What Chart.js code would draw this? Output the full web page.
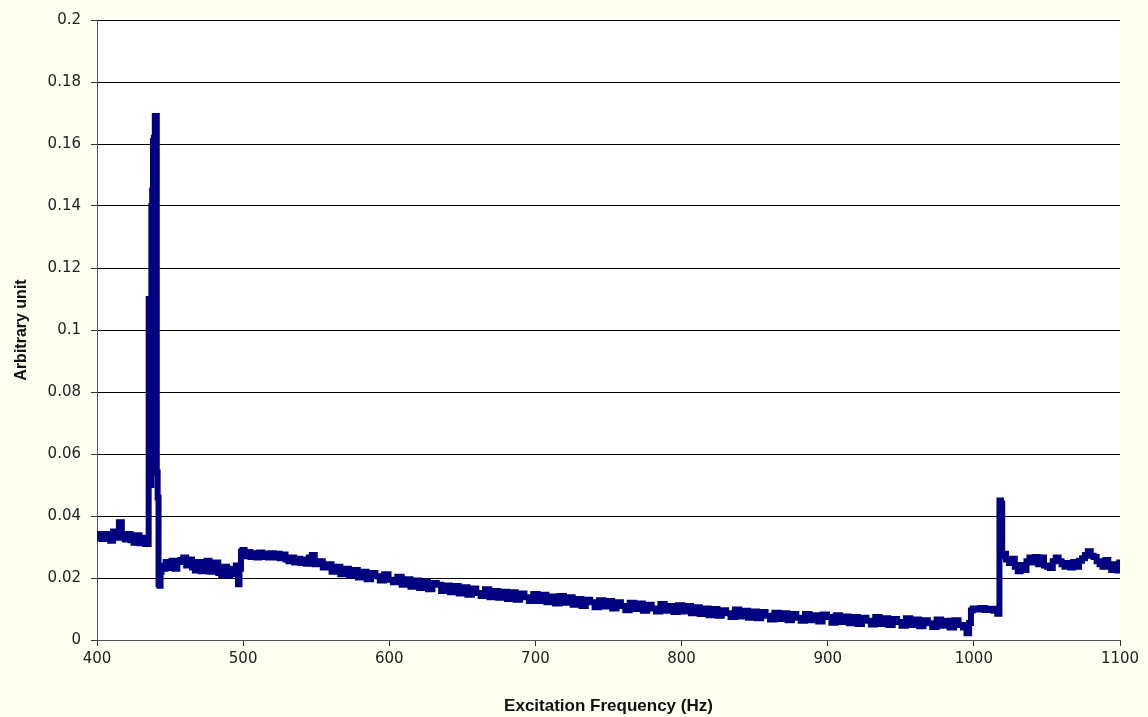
<!DOCTYPE html>
<html>
<head>
<meta charset="utf-8">
<script src="https://cdn.jsdelivr.net/npm/chart.js@4/dist/chart.umd.min.js"></script>
<style>
html,body{margin:0;padding:0;background:#FFFFF2;}
#wrap{width:1148px;height:717px;}
</style>
</head>
<body>
<div id="wrap"><canvas id="c" width="1148" height="717"></canvas></div>
<script>
// Excitation frequency (Hz)
const freqs = [
400,402,404,406,408,410,412,414,416,418,420,422,424,426,428,430,432,434,435,
435.7,436.3,436.9,437.5,438.0,438.6,439.3,439.8,440.6,441.2,441.8,442.4,443.2,443.8,444.6,
446,448,450,452,454,456,458,460,462,464,466,468,470,472,474,476,478,480,482,484,486,488,490,492,494,496,497,498,499,500,
502,504,506,508,510,512,514,516,518,520,522,524,526,528,530,532,534,536,538,540,542,544,546,548,550,
553,556,559,562,565,568,571,574,577,580,583,586,589,592,595,598,601,
604,607,610,613,616,619,622,625,628,631,634,637,640,643,646,649,652,655,658,661,664,667,670,673,676,679,682,685,688,691,694,697,700,
703,706,709,712,715,718,721,724,727,730,733,736,739,742,745,748,751,754,757,760,763,766,769,772,775,778,781,784,787,790,793,796,799,
802,805,808,811,814,817,820,823,826,829,832,835,838,841,844,847,850,853,856,859,862,865,868,871,874,877,880,883,886,889,892,895,898,
901,904,907,910,913,916,919,922,925,928,931,934,937,940,943,946,949,952,955,958,961,964,967,970,973,976,979,982,985,988,991,994,996,997.5,
998.5,1000,1003,1006,1009,1012,1015,1017,1018,1019,1019.8,1021,1023,1025,1027,1029,1031,1033,1035,1037,1039,1041,1043,1045,1047,1049,
1051,1053,1055,1057,1059,1061,1063,1065,1067,1069,1071,1073,1075,1077,1079,1081,1083,1085,1087,1089,1091,1093,1095,1097,1099,1100
];
// Arbitrary unit
const amps = [
0.0342,0.0330,0.0326,0.0342,0.0328,0.0320,0.0350,0.0330,0.0380,0.0336,0.0324,0.0342,0.0322,0.0314,0.0338,0.0312,0.0330,0.0310,0.0310,
0.110,0.110,0.050,0.140,0.145,0.161,0.162,0.169,0.169,0.054,0.046,0.018,0.0175,0.022,0.024,
0.0230,0.0252,0.0232,0.0256,0.0230,0.0252,0.0258,0.0266,0.0240,0.0260,0.0234,0.0224,0.0252,0.0222,0.0244,0.0256,0.0220,0.0240,0.0250,0.0216,0.0210,0.0236,0.0208,0.0230,0.0212,0.0240,0.0180,0.0230,0.0285,0.0290,
0.0270,0.0284,0.0268,0.0280,0.0266,0.0282,0.0268,0.0279,0.0266,0.0280,0.0266,0.0278,0.0264,0.0276,0.0260,0.0254,0.0266,0.0250,0.0262,0.0248,0.0260,0.0246,0.0266,0.0274,0.0244,
0.0254,0.0234,0.0244,0.0220,0.0236,0.0212,0.0230,0.0208,0.0226,0.0202,0.0220,0.0196,0.0216,0.0206,0.0192,0.0212,0.0194,
0.0186,0.0204,0.0178,0.0196,0.0172,0.0192,0.0168,0.0188,0.0164,0.0184,0.0178,0.0158,0.0176,0.0154,0.0174,0.0150,0.0170,0.0146,0.0166,0.0152,0.0142,0.0164,0.0138,0.0158,0.0136,0.0156,0.0132,0.0154,0.0130,0.0150,0.0138,0.0126,0.0148,
0.0126,0.0146,0.0122,0.0140,0.0118,0.0142,0.0120,0.0138,0.0114,0.0132,0.0110,0.0130,0.0122,0.0106,0.0128,0.0108,0.0126,0.0102,0.0122,0.0110,0.0096,0.0120,0.0100,0.0118,0.0094,0.0114,0.0102,0.0092,0.0116,0.0094,0.0110,0.0090,0.0112,
0.0092,0.0110,0.0086,0.0106,0.0084,0.0102,0.0080,0.0100,0.0078,0.0096,0.0086,0.0074,0.0098,0.0076,0.0094,0.0072,0.0092,0.0070,0.0090,0.0078,0.0066,0.0088,0.0068,0.0086,0.0064,0.0084,0.0072,0.0062,0.0084,0.0064,0.0080,0.0060,0.0082,
0.0074,0.0056,0.0080,0.0058,0.0076,0.0054,0.0074,0.0052,0.0072,0.0062,0.0050,0.0074,0.0052,0.0070,0.0048,0.0068,0.0058,0.0046,0.0070,0.0048,0.0066,0.0044,0.0064,0.0054,0.0042,0.0066,0.0046,0.0062,0.0040,0.0064,0.0048,0.0040,0.0022,0.0055,
0.0095,0.0102,0.0098,0.0103,0.0097,0.0101,0.0094,0.0085,0.0450,0.0440,0.0270,0.0278,0.0260,0.0248,0.0262,0.0236,0.0222,0.0242,0.0226,0.0254,0.0266,0.0250,0.0268,0.0244,0.0266,0.0240,
0.0236,0.0232,0.0254,0.0266,0.0254,0.0244,0.0236,0.0248,0.0234,0.0252,0.0236,0.0256,0.0264,0.0274,0.0286,0.0272,0.0268,0.0254,0.0244,0.0236,0.0258,0.0242,0.0226,0.0244,0.0224,0.0250
];
const xTicks = [400,500,600,700,800,900,1000,1100];
const yTicks = [0,0.02,0.04,0.06,0.08,0.1,0.12,0.14,0.16,0.18,0.2];
const xTitle = 'Excitation Frequency (Hz)';
const yTitle = 'Arbitrary unit';

const points = freqs.map((f, i) => ({x: f, y: amps[i]}));

const bgPlugin = {
  id: 'bg',
  beforeDraw(chart) {
    const {ctx, chartArea: a} = chart;
    ctx.save();
    ctx.fillStyle = '#FFFFF2';
    ctx.fillRect(0, 0, chart.width, chart.height);
    ctx.fillStyle = '#FFFFFF';
    ctx.fillRect(a.left, a.top, a.right - a.left, a.bottom - a.top);
    ctx.restore();
  }
};

new Chart(document.getElementById('c'), {
  type: 'line',
  data: {
    datasets: [{
      data: points,
      borderColor: '#000080',
      borderWidth: 6,
      pointRadius: 0,
      stepped: 'middle',
      borderJoinStyle: 'miter',
      borderCapStyle: 'butt',
      fill: false,
      tension: 0
    }]
  },
  options: {
    responsive: false,
    animation: false,
    layout: {padding: {left: 0, right: 28, top: 20, bottom: 0}},
    plugins: {legend: {display: false}, tooltip: {enabled: false}},
    scales: {
      x: {
        type: 'linear', min: 400, max: 1100,
        afterBuildTicks(s) { s.ticks = xTicks.map(v => ({value: v})); },
        afterFit(s) { s.height = 77; },
        grid: {drawOnChartArea: false, drawTicks: true, tickLength: 6, tickColor: '#333', color: '#333'},
        border: {color: '#555', width: 1},
        ticks: {color: '#222', font: {family: 'DejaVu Sans', size: 15}, padding: 4, maxRotation: 0,
          callback: v => String(v)},
        title: {display: true, text: xTitle, color: '#111', font: {family: 'Liberation Sans', size: 17, weight: 'bold'}, padding: {top: 8, bottom: 0}}
      },
      y: {
        min: 0, max: 0.2,
        afterBuildTicks(s) { s.ticks = yTicks.map(v => ({value: v})); },
        afterFit(s) { s.width = 97; },
        grid: {color: '#000', lineWidth: 1, drawTicks: true, tickLength: 6, tickColor: '#333'},
        border: {color: '#555', width: 1},
        ticks: {color: '#222', font: {family: 'DejaVu Sans', size: 15}, padding: 10,
          callback: v => String(+v.toFixed(2))},
        title: {display: true, text: yTitle, color: '#111', font: {family: 'Liberation Sans', size: 16, weight: 'bold'}, padding: {top: 12, bottom: 4}}
      }
    }
  },
  plugins: [bgPlugin]
});
</script>
</body>
</html>
